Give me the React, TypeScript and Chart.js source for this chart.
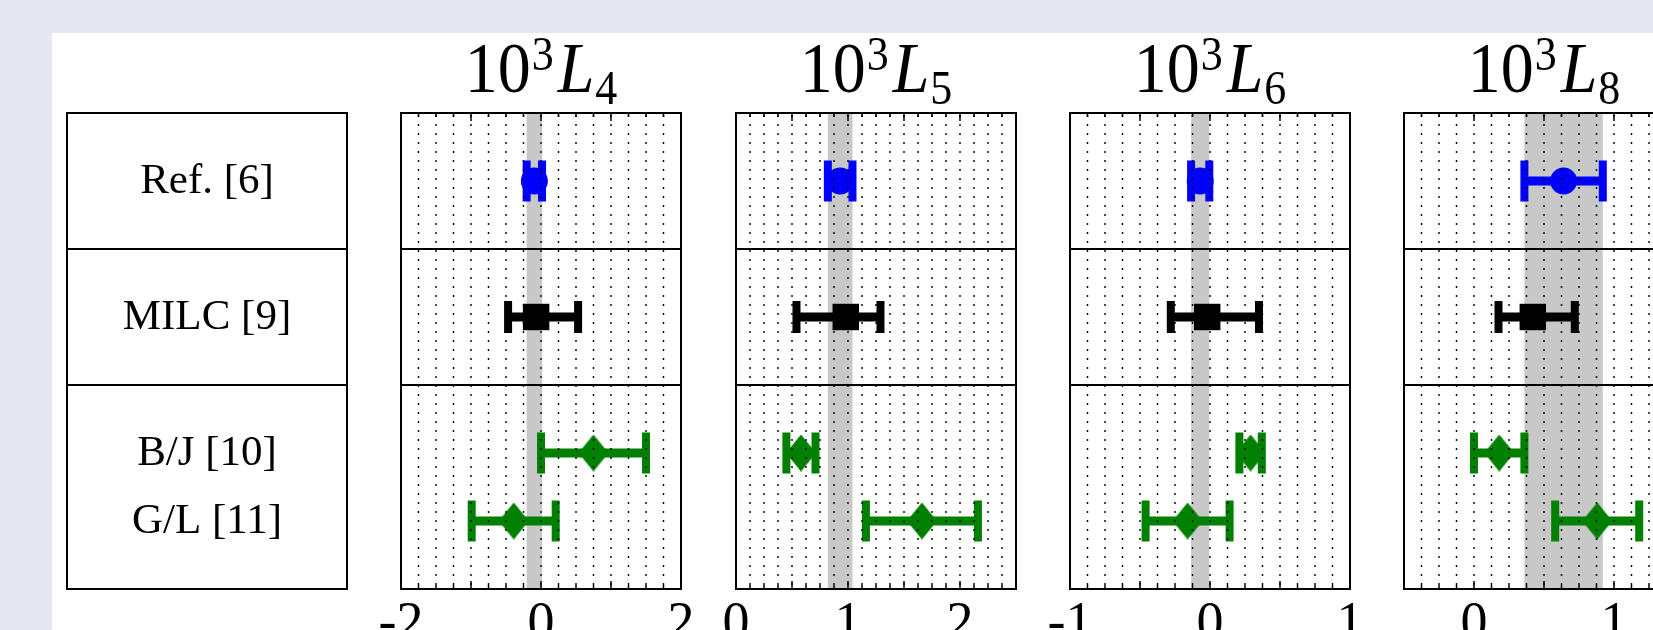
import { useEffect, useRef } from 'react';
import { Chart, registerables } from 'chart.js';

Chart.register(...registerables);

// Subscripts of the four coefficients 10^3 L_i, one panel each
const coefficientIndices = ['4', '5', '6', '8'];
const axisMin = [-2, 0, -1, -0.5];
const axisMax = [2, 2.5, 1, 1.5];
const gridStep = [0.25, 0.125, 0.125, 0.125];
const majorTickStep = [1, 0.5, 0.5, 0.5];
const labelStep = [2, 1, 1, 1];

// Rows on the shared vertical axis (0 … 7)
const rowLabels = ['Ref. [6]', 'MILC [9]', 'B/J [10]', 'G/L [11]'];
const rowPositions = [6, 4, 2, 1];
const rowDividers = [3, 5];
const rowMin = 0;
const rowMax = 7;

// Ref. [6]: value ± error (its range is also shaded as the grey band)
const refValues = [-0.095, 0.93, -0.07, 0.64];
const refErrors = [0.11, 0.11, 0.065, 0.28];
// MILC [9]: central value with asymmetric range
const milcValues = [-0.07, 0.98, -0.02, 0.42];
const milcLow = [-0.47, 0.54, -0.28, 0.175];
const milcHigh = [0.53, 1.29, 0.35, 0.72];
// B/J [10]
const bjValues = [0.75, 0.58, 0.29, 0.18];
const bjErrors = [0.75, 0.13, 0.08, 0.18];
// G/L [11]
const glValues = [-0.39, 1.66, -0.16, 0.88];
const glErrors = [0.6, 0.5, 0.3, 0.3];

const BLUE = '#0000ff';
const BLACK = '#000000';
const GREEN = '#008000';
const BAND = '#c8c8c8';
const PAGE = '#e5e8f0';
const SERIF = "'Liberation Serif', 'Times New Roman', serif";

const CANVAS_TOP = 33;
const PLOT_TOP = 113;
const PLOT_HEIGHT = 476;
const PLOT_WIDTH = 280;
const SIDE_PAD = 40;
const AXIS_HEIGHT = 84;
const CANVAS_WIDTH = PLOT_WIDTH + 2 * SIDE_PAD;
const CANVAS_HEIGHT = PLOT_TOP - CANVAS_TOP + PLOT_HEIGHT + AXIS_HEIGHT;
const columnLeft = (col: number) => Math.round(67 + 334.25 * col);

const isMultiple = (v: number, step: number) =>
  Math.abs(v / step - Math.round(v / step)) < 1e-6;

function diamondMarker(w: number, h: number, color: string) {
  const c = document.createElement('canvas');
  c.width = w;
  c.height = h;
  const g = c.getContext('2d')!;
  g.fillStyle = color;
  g.beginPath();
  g.moveTo(w / 2, 0);
  g.lineTo(w, h / 2);
  g.lineTo(w / 2, h);
  g.lineTo(0, h / 2);
  g.closePath();
  g.fill();
  return c;
}

function drawTitle(ctx: CanvasRenderingContext2D, cx: number, baseline: number, sub: string) {
  const big = 66;
  const small = 44;
  const stretch = 1.1;
  const pieces = [
    { text: '10', font: `${big}px ${SERIF}`, rise: 0, gap: 1 },
    { text: '3', font: `${small}px ${SERIF}`, rise: 22, gap: 4 },
    { text: 'L', font: `italic ${big}px ${SERIF}`, rise: 0, gap: 1 },
    { text: sub, font: `${small}px ${SERIF}`, rise: -12, gap: 0 },
  ];
  ctx.save();
  ctx.fillStyle = '#000';
  ctx.textBaseline = 'alphabetic';
  ctx.textAlign = 'left';
  const widths = pieces.map((p) => {
    ctx.font = p.font;
    return ctx.measureText(p.text).width + p.gap;
  });
  const total = widths.reduce((s, w) => s + w, 0);
  let x = cx - total / 2;
  pieces.forEach((p, k) => {
    ctx.save();
    ctx.font = p.font;
    ctx.translate(x, baseline - p.rise);
    ctx.scale(1, stretch);
    ctx.fillText(p.text, 0, 0);
    ctx.restore();
    x += widths[k];
  });
  ctx.restore();
}

const panelDecor = {
  id: 'panelDecor',
  beforeDatasetsDraw(chart: any, _args: any, opts: any) {
    const { ctx, chartArea: a, scales } = chart;
    const x = scales.x;
    ctx.save();
    if (opts.hasBand) {
      const x0 = x.getPixelForValue(opts.bandLow);
      const x1 = x.getPixelForValue(opts.bandHigh);
      ctx.fillStyle = BAND;
      ctx.fillRect(x0, a.top, x1 - x0, a.bottom - a.top);
    }
    chart.data.datasets.forEach((ds: any, d: number) => {
      const meta = chart.getDatasetMeta(d);
      meta.data.forEach((el: any, j: number) => {
        const raw = ds.data[j];
        const lo = x.getPixelForValue(raw.xLow);
        const hi = x.getPixelForValue(raw.xHigh);
        ctx.strokeStyle = ds.backgroundColor;
        ctx.lineCap = 'butt';
        ctx.lineWidth = 9;
        ctx.beginPath();
        ctx.moveTo(lo, el.y);
        ctx.lineTo(hi, el.y);
        ctx.stroke();
        ctx.lineWidth = 8;
        ctx.beginPath();
        for (const px of [lo, hi]) {
          ctx.moveTo(px, el.y - ds.capHalfHeight);
          ctx.lineTo(px, el.y + ds.capHalfHeight);
        }
        ctx.stroke();
      });
    });
    ctx.restore();
  },
  afterDatasetsDraw(chart: any, _args: any, opts: any) {
    const { ctx, chartArea: a, scales } = chart;
    const x = scales.x;
    const y = scales.y;
    ctx.save();
    ctx.strokeStyle = '#000';
    if (opts.grid) {
      // dotted vertical grid, drawn over the markers
      ctx.lineWidth = 1.4;
      ctx.setLineDash([2, 7]);
      ctx.lineDashOffset = 7;
      ctx.beginPath();
      for (const t of x.ticks) {
        if (t.value <= x.min + 1e-9 || t.value >= x.max - 1e-9) continue;
        const px = x.getPixelForValue(t.value);
        ctx.moveTo(px, a.top);
        ctx.lineTo(px, a.bottom);
      }
      ctx.stroke();
      ctx.setLineDash([]);
      // inward tick marks on top and bottom edges
      ctx.lineWidth = 1.5;
      ctx.beginPath();
      for (const t of x.ticks) {
        const px = x.getPixelForValue(t.value);
        const len = isMultiple(t.value, opts.majorStep) ? 8 : 4;
        ctx.moveTo(px, a.bottom);
        ctx.lineTo(px, a.bottom - len);
        ctx.moveTo(px, a.top);
        ctx.lineTo(px, a.top + len);
      }
      ctx.stroke();
    }
    // row dividers
    ctx.lineWidth = 2;
    ctx.beginPath();
    for (const v of rowDividers) {
      const py = y.getPixelForValue(v);
      ctx.moveTo(a.left, py);
      ctx.lineTo(a.right, py);
    }
    ctx.stroke();
    ctx.strokeRect(a.left, a.top, a.right - a.left, a.bottom - a.top);

    if (opts.table) {
      ctx.fillStyle = '#000';
      ctx.font = `43px ${SERIF}`;
      ctx.textAlign = 'center';
      ctx.textBaseline = 'alphabetic';
      rowLabels.forEach((label, k) => {
        const py = y.getPixelForValue(rowPositions[k]);
        ctx.fillText(label, (a.left + a.right) / 2, py + 12);
      });
    }
    ctx.restore();
  },
  afterDraw(chart: any, _args: any, opts: any) {
    if (!opts.titleSub) return;
    const a = chart.chartArea;
    drawTitle(chart.ctx, (a.left + a.right) / 2, a.top - 21, opts.titleSub);
  },
};

const baseOptions = (bottomPad: number) => ({
  animation: false as const,
  responsive: false,
  devicePixelRatio: 1,
  events: [] as any[],
  layout: {
    padding: { top: PLOT_TOP - CANVAS_TOP, left: SIDE_PAD, right: SIDE_PAD, bottom: bottomPad },
  },
});

function tableConfig(): any {
  return {
    type: 'scatter',
    data: { datasets: [] },
    options: {
      ...baseOptions(AXIS_HEIGHT),
      plugins: {
        legend: { display: false },
        tooltip: { enabled: false },
        panelDecor: { table: true, grid: false, hasBand: false },
      },
      scales: {
        x: { type: 'linear', display: false, min: 0, max: 1 },
        y: { type: 'linear', display: false, min: rowMin, max: rowMax },
      },
    },
    plugins: [panelDecor],
  };
}

function panelConfig(i: number): any {
  const diamond = diamondMarker(30, 37, GREEN);
  const point = (x: number, y: number, lo: number, hi: number) => ({ x, y, xLow: lo, xHigh: hi });
  const datasets = [
    {
      label: rowLabels[0],
      data: [point(refValues[i], rowPositions[0], refValues[i] - refErrors[i], refValues[i] + refErrors[i])],
      pointStyle: 'circle',
      pointRadius: 13.5,
      backgroundColor: BLUE,
      borderColor: BLUE,
      borderWidth: 0,
      capHalfHeight: 20.5,
    },
    {
      label: rowLabels[1],
      data: [point(milcValues[i], rowPositions[1], milcLow[i], milcHigh[i])],
      pointStyle: 'rect',
      pointRadius: 18.7,
      backgroundColor: BLACK,
      borderColor: BLACK,
      borderWidth: 0,
      capHalfHeight: 16,
    },
    {
      label: rowLabels[2],
      data: [point(bjValues[i], rowPositions[2], bjValues[i] - bjErrors[i], bjValues[i] + bjErrors[i])],
      pointStyle: diamond,
      pointRadius: 15,
      backgroundColor: GREEN,
      borderColor: GREEN,
      borderWidth: 0,
      capHalfHeight: 20.5,
    },
    {
      label: rowLabels[3],
      data: [point(glValues[i], rowPositions[3], glValues[i] - glErrors[i], glValues[i] + glErrors[i])],
      pointStyle: diamond,
      pointRadius: 15,
      backgroundColor: GREEN,
      borderColor: GREEN,
      borderWidth: 0,
      capHalfHeight: 20.5,
    },
  ];
  return {
    type: 'scatter',
    data: { datasets },
    options: {
      ...baseOptions(0),
      plugins: {
        legend: { display: false },
        tooltip: { enabled: false },
        panelDecor: {
          grid: true,
          table: false,
          hasBand: true,
          bandLow: refValues[i] - refErrors[i],
          bandHigh: refValues[i] + refErrors[i],
          majorStep: majorTickStep[i],
          titleSub: coefficientIndices[i],
        },
      },
      scales: {
        x: {
          type: 'linear',
          min: axisMin[i],
          max: axisMax[i],
          grid: { display: false },
          border: { display: false },
          ticks: {
            stepSize: gridStep[i],
            autoSkip: false,
            maxRotation: 0,
            minRotation: 0,
            padding: -5,
            color: '#000',
            font: { family: SERIF, size: 54, lineHeight: 1.2 },
            callback: (v: number) => (isMultiple(v, labelStep[i]) ? String(Math.round(v)) : ''),
          },
          afterFit: (s: any) => {
            s.height = AXIS_HEIGHT;
          },
        },
        y: { type: 'linear', display: false, min: rowMin, max: rowMax },
      },
    },
    plugins: [panelDecor],
  };
}

function ChartCanvas({ left, build }: { left: number; build: () => any }) {
  const ref = useRef<HTMLCanvasElement | null>(null);
  useEffect(() => {
    const chart = new Chart(ref.current as HTMLCanvasElement, build());
    return () => chart.destroy();
  }, []);
  return (
    <canvas
      ref={ref}
      width={CANVAS_WIDTH}
      height={CANVAS_HEIGHT}
      style={{
        position: 'absolute',
        left,
        top: CANVAS_TOP,
        width: CANVAS_WIDTH,
        height: CANVAS_HEIGHT,
      }}
    />
  );
}

export default function App() {
  return (
    <div style={{ position: 'fixed', inset: 0, background: PAGE, overflow: 'hidden' }}>
      <div
        style={{ position: 'absolute', left: 52, top: 33, right: -200, bottom: -200, background: '#ffffff' }}
      />
      <ChartCanvas left={columnLeft(0) - SIDE_PAD} build={tableConfig} />
      {coefficientIndices.map((_, i) => (
        <ChartCanvas key={i} left={columnLeft(i + 1) - SIDE_PAD} build={() => panelConfig(i)} />
      ))}
    </div>
  );
}
